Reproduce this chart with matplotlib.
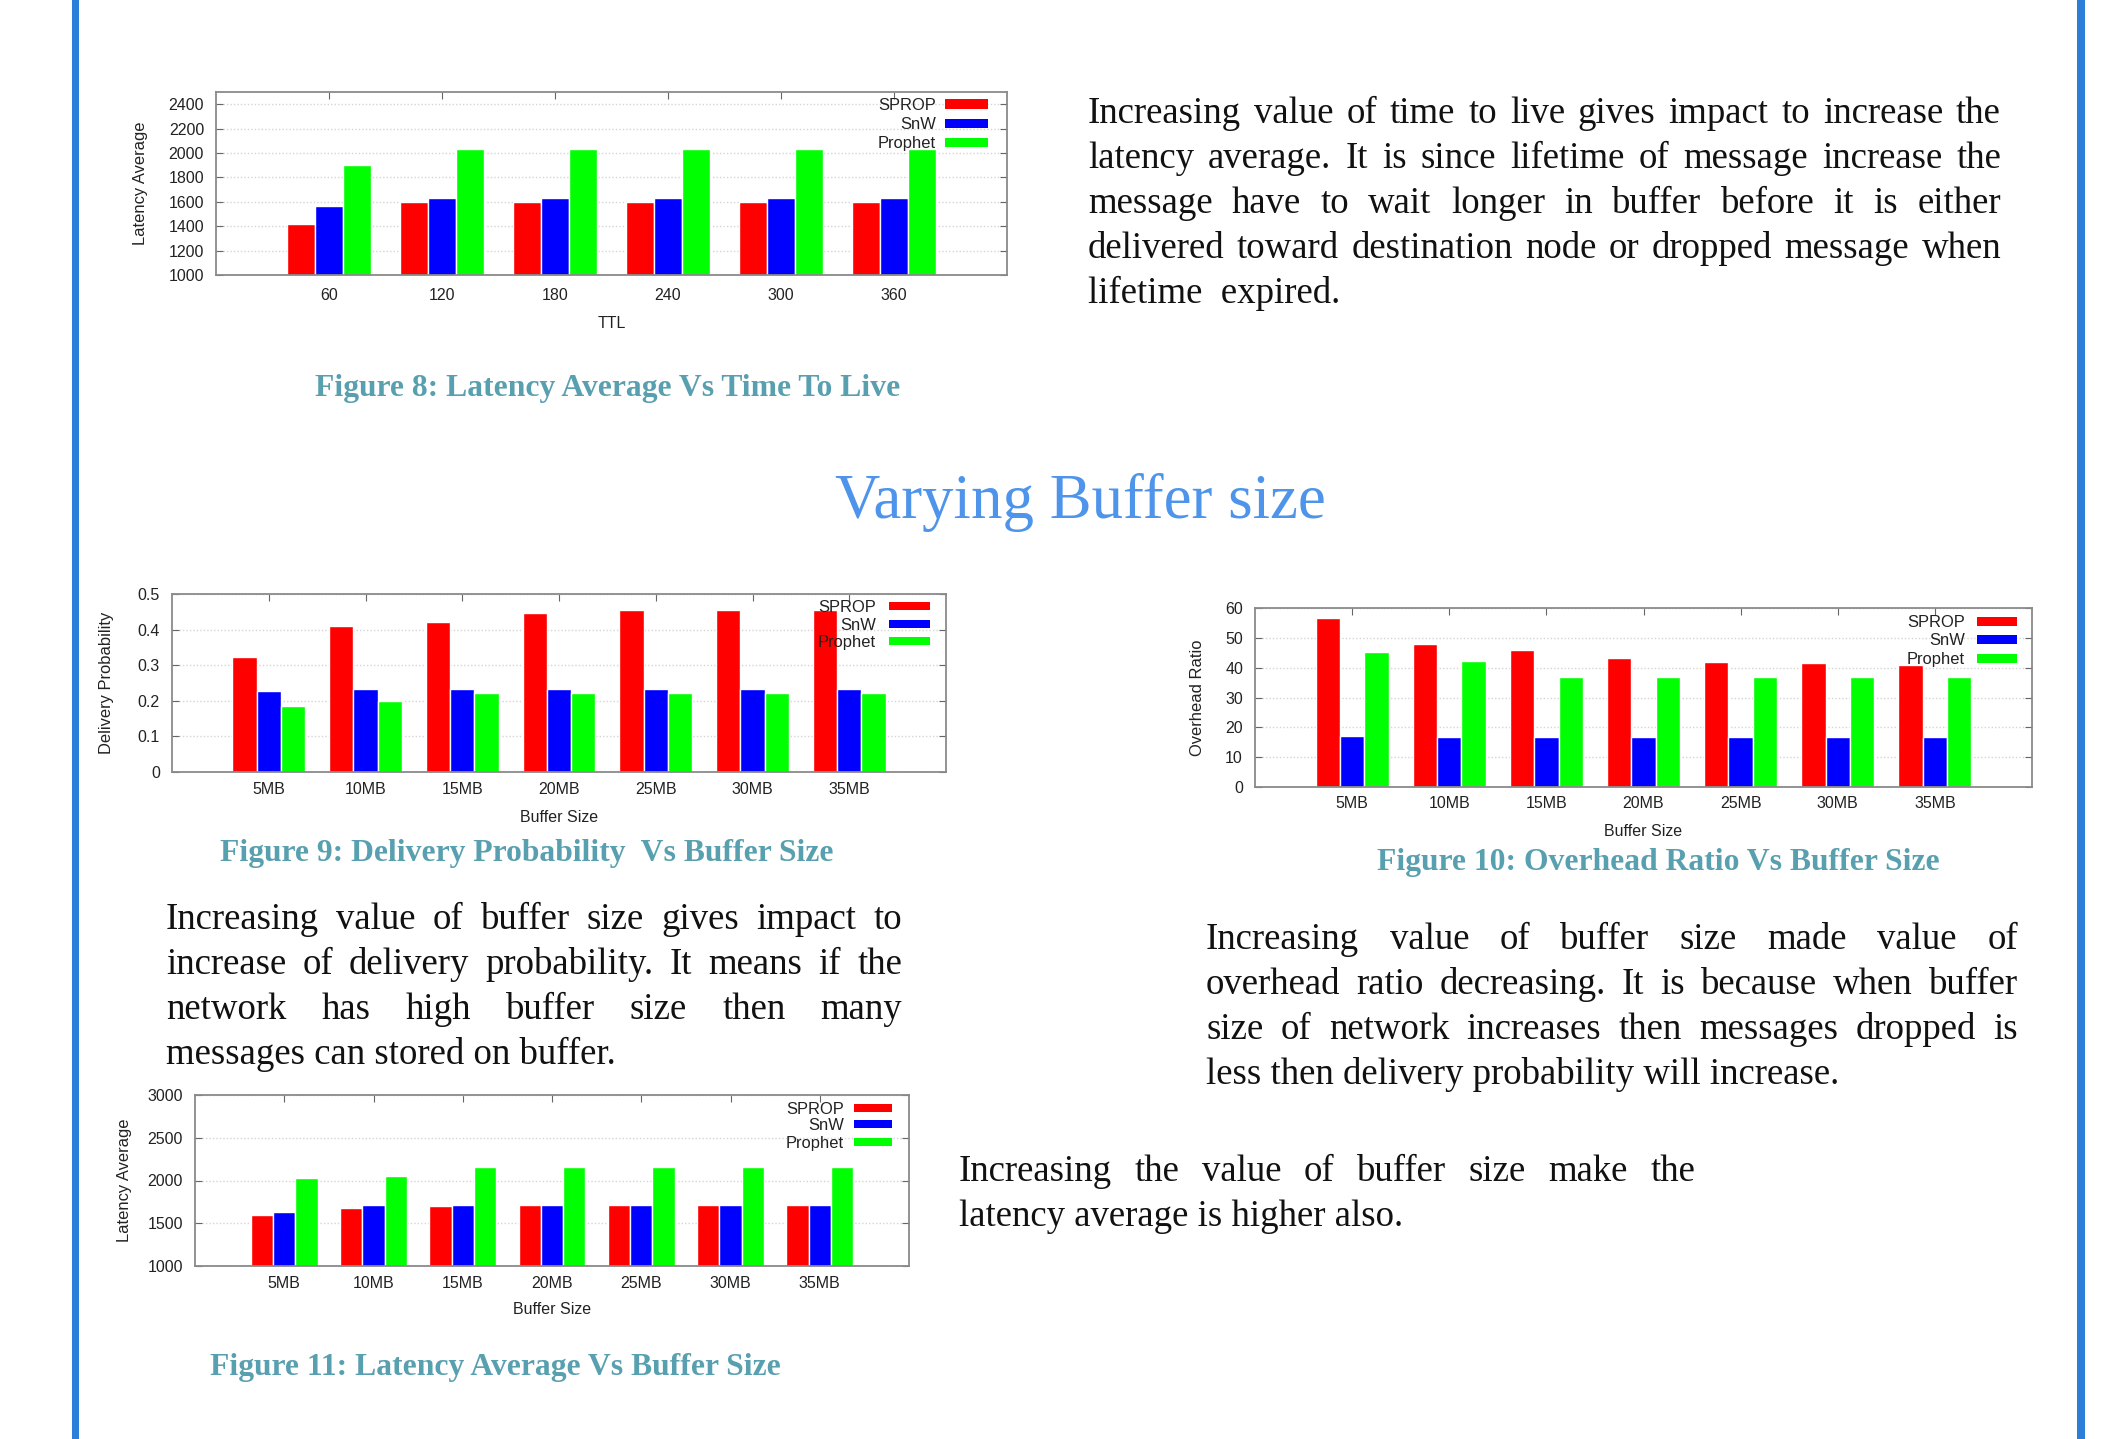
import numpy as np
import matplotlib
matplotlib.use("Agg")
import matplotlib.pyplot as plt
from matplotlib.patches import Rectangle

# ---------------------------------------------------------------- data
series_names = ["SPROP", "SnW", "Prophet"]
series_colors = ["#ff0000", "#0000ff", "#00ff00"]

ttl_labels = ["60", "120", "180", "240", "300", "360"]
ttl_latency_sprop = [1422, 1600, 1600, 1600, 1600, 1600]
ttl_latency_snw = [1568, 1633, 1633, 1633, 1633, 1633]
ttl_latency_prophet = [1898, 2030, 2030, 2030, 2030, 2030]

buffer_labels = ["5MB", "10MB", "15MB", "20MB", "25MB", "30MB", "35MB"]
buf_delivery_sprop = [0.323, 0.411, 0.422, 0.447, 0.455, 0.455, 0.455]
buf_delivery_snw = [0.228, 0.234, 0.234, 0.234, 0.234, 0.234, 0.234]
buf_delivery_prophet = [0.185, 0.199, 0.221, 0.221, 0.221, 0.221, 0.221]

buf_overhead_sprop = [56.6, 48.0, 46.0, 43.2, 41.8, 41.5, 41.0]
buf_overhead_snw = [17.2, 16.7, 16.7, 16.7, 16.7, 16.7, 16.7]
buf_overhead_prophet = [45.1, 42.1, 36.8, 36.8, 36.8, 36.8, 36.8]

buf_latency_sprop = [1602, 1681, 1705, 1710, 1710, 1710, 1710]
buf_latency_snw = [1630, 1710, 1710, 1710, 1710, 1710, 1710]
buf_latency_prophet = [2031, 2047, 2161, 2161, 2161, 2161, 2161]

# ---------------------------------------------------------------- page
W, H = 2111, 1439
DPI = 100
fig = plt.figure(figsize=(W / DPI, H / DPI), dpi=DPI)
fig.patch.set_facecolor("white")
renderer = fig.canvas.get_renderer()

SANS = "Liberation Sans"
SERIF = "Liberation Serif"
PX = 72.0 / DPI  # points per pixel
CHART_FS = 16.0 * PX

BORDER = "#2b7fd9"
CAPTION = "#58a0b0"
HEADING = "#4d94ea"
INK = "#111111"

# side rules of the page
for x0, wd in [(72, 7), (2077, 8)]:
    fig.add_artist(Rectangle((x0 / W, 0), wd / W, 1, transform=fig.transFigure,
                             color=BORDER, lw=0, zorder=0))


def fx(x):
    return x / W


def fy(y):
    return 1 - y / H


def bar_chart(box, cats, series, ylim, yticks, yfmt, ylabel, xlabel,
              ylabel_off, xtick_pad, xlabel_off, key):
    l, t, r, b = box
    aw, ah = r - l, b - t
    ax = fig.add_axes([l / W, 1 - b / H, aw / W, ah / H])
    x = np.arange(1, len(cats) + 1)
    w = 0.25
    for i, (vals, col) in enumerate(zip(series, series_colors)):
        ax.bar(x + (i - 1) * w, vals, width=w, color=col, edgecolor="white",
               linewidth=1.0, zorder=3)
    ax.set_xlim(0, len(cats) + 1)
    ax.set_ylim(*ylim)
    ax.set_yticks(yticks)
    ax.set_yticklabels([yfmt(v) for v in yticks])
    ax.set_xticks(x)
    ax.set_xticklabels(cats)
    ax.yaxis.grid(True, color="#d4d4d4", linestyle=(0, (1, 1.5)), linewidth=1.0)
    ax.set_axisbelow(True)
    ax.tick_params(direction="in", length=5, width=0.8, color="#666666",
                   top=True, right=True, labelsize=CHART_FS,
                   labelcolor="#222222")
    ax.tick_params(axis="x", pad=xtick_pad * PX)
    ax.tick_params(axis="y", pad=12 * PX)
    for lab in ax.get_xticklabels() + ax.get_yticklabels():
        lab.set_fontfamily(SANS)
    for sp in ax.spines.values():
        sp.set_color("#8a8a8a")
        sp.set_linewidth(1.3)
        sp.set_zorder(4)
    ax.set_ylabel(ylabel, fontsize=16.5 * PX, family=SANS, color="#222222")
    ax.yaxis.set_label_coords(-ylabel_off / aw, 0.5)
    ax.yaxis.label.set_verticalalignment("center")
    ax.set_xlabel(xlabel, fontsize=CHART_FS, family=SANS, color="#222222")
    ax.xaxis.set_label_coords(0.5, -xlabel_off / ah)
    ax.xaxis.label.set_verticalalignment("center")

    # key: label then colour swatch, top right inside the frame
    right_in, rows, bw, bh, gap = key
    xr = 1 - right_in / aw
    xl = xr - bw / aw
    for name, col, yc in zip(series_names, series_colors, rows):
        yf = 1 - yc / ah
        ax.add_patch(Rectangle((xl, yf - bh / 2 / ah), bw / aw, bh / ah,
                               transform=ax.transAxes, facecolor=col,
                               edgecolor="none", zorder=6, clip_on=False))
        ax.text(xl - gap / aw, yf, name, transform=ax.transAxes, ha="right",
                va="center_baseline", fontsize=16.5 * PX, family=SANS,
                color="#222222", zorder=7)
    return ax


def fmt_int(v):
    return f"{int(v)}"


def fmt_prob(v):
    return "0" if v == 0 else f"{v:g}"


# Figure 8
bar_chart((216, 92, 1007, 275), ttl_labels,
          [ttl_latency_sprop, ttl_latency_snw, ttl_latency_prophet],
          (1000, 2500), np.arange(1000, 2401, 200), fmt_int,
          "Latency Average", "TTL", 76, 13, 48,
          (19, [12, 31, 50], 43, 9, 9))

# Figure 9
bar_chart((172, 594, 946, 772), buffer_labels,
          [buf_delivery_sprop, buf_delivery_snw, buf_delivery_prophet],
          (0, 0.5), [0, 0.1, 0.2, 0.3, 0.4, 0.5], fmt_prob,
          "Delivery Probability", "Buffer Size", 65, 10.5, 45,
          (16, [12, 30, 47], 41, 8, 13))

# Figure 10
bar_chart((1255, 608, 2032, 787), buffer_labels,
          [buf_overhead_sprop, buf_overhead_snw, buf_overhead_prophet],
          (0, 60), np.arange(0, 61, 10), fmt_int,
          "Overhead Ratio", "Buffer Size", 58, 9.5, 45,
          (15, [13, 31, 50], 40, 9, 12))

# Figure 11
bar_chart((195, 1095, 909, 1266), buffer_labels,
          [buf_latency_sprop, buf_latency_snw, buf_latency_prophet],
          (1000, 3000), np.arange(1000, 3001, 500), fmt_int,
          "Latency Average", "Buffer Size", 71, 10, 44,
          (17, [13, 29, 47], 38, 8, 10))


# ---------------------------------------------------------------- text
def text_width(s, size_pt, **kw):
    t = fig.text(0, 0, s, fontsize=size_pt, **kw)
    wd = t.get_window_extent(renderer).width
    t.remove()
    return wd


def fit_size(s, target_px, **kw):
    ref = 20.0
    return ref * target_px / text_width(s, ref, **kw)


# heading
head = "Varying Buffer size"
head_size = fit_size(head, 491, family=SERIF)
fig.text(fx(1080.5), fy(518), head, fontsize=head_size, family=SERIF,
         color=HEADING, ha="center", va="baseline")

# captions
captions = [
    ("Figure 8: Latency Average Vs Time To Live", 314, 902, 396),
    ("Figure 9: Delivery Probability  Vs Buffer Size", 222, 831, 861),
    ("Figure 10: Overhead Ratio Vs Buffer Size", 1376, 1940, 870),
    ("Figure 11: Latency Average Vs Buffer Size", 209, 781, 1375),
]
cap_sizes = [fit_size(s, x1 - x0, family=SERIF, weight="bold")
             for s, x0, x1, _ in captions]
cap_size = float(np.mean(cap_sizes))
for s, x0, x1, yb in captions:
    fig.text(fx((x0 + x1) / 2), fy(yb), s, fontsize=cap_size, family=SERIF,
             weight="bold", color=CAPTION, ha="center", va="baseline")

# body paragraphs: (lines, left, right, first baseline, justify flags)
paragraphs = [
    (["Increasing value of time to live gives impact to increase the",
      "latency average. It is since lifetime of message increase the",
      "message have to wait longer in buffer before it is either",
      "delivered toward destination node or dropped message when",
      "lifetime  expired."],
     1088, 2001, 123, [True, True, True, True, False]),
    (["Increasing value of buffer size gives impact to",
      "increase of delivery probability. It means if the",
      "network has high buffer size then many",
      "messages can stored on buffer."],
     166, 902, 929, [True, True, True, False]),
    (["Increasing value of buffer size made value of",
      "overhead ratio decreasing. It is because when buffer",
      "size of network increases then messages dropped is",
      "less then delivery probability will increase."],
     1206, 2018, 949, [True, True, True, False]),
    (["Increasing the value of buffer size make the",
      "latency average is higher also."],
     959, 1695, 1181, [True, False]),
]
LEADING = 45.0

# size from the free-running closing lines
closing = [("lifetime  expired.", 245), ("messages can stored on buffer.", 456),
           ("less then delivery probability will increase.", 638),
           ("latency average is higher also.", 451)]
body_size = float(np.mean([fit_size(s, wd, family=SERIF) for s, wd in closing]))

for lines, x0, x1, y0, flags in paragraphs:
    for k, (line, just) in enumerate(zip(lines, flags)):
        yb = y0 + k * LEADING
        if not just:
            fig.text(fx(x0), fy(yb), line, fontsize=body_size, family=SERIF,
                     color=INK, ha="left", va="baseline")
            continue
        words = line.split()
        objs = [fig.text(0, 0, wd, fontsize=body_size, family=SERIF, color=INK,
                         ha="left", va="baseline") for wd in words]
        widths = [o.get_window_extent(renderer).width for o in objs]
        gap = (x1 - x0 - sum(widths)) / (len(words) - 1)
        xpos = x0
        for o, wd in zip(objs, widths):
            o.set_position((fx(xpos), fy(yb)))
            xpos += wd + gap

fig.savefig("out.png", dpi=DPI, facecolor="white")
